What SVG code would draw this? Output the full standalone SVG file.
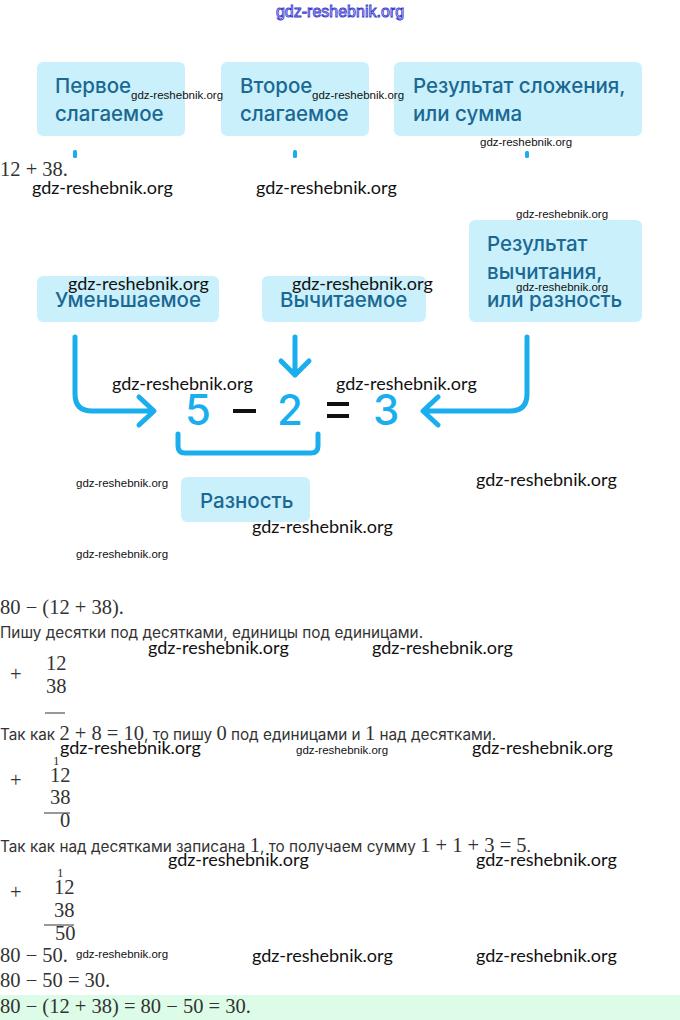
<svg xmlns="http://www.w3.org/2000/svg" width="680" height="1020" viewBox="0 0 680 1020">
<style>
.box{fill:#c9f0fb}
.bt{font-family:Inter,"Noto Sans",sans-serif;font-size:20.5px;font-weight:500;fill:#1b6893}
.wm{font-family:Lato,"Liberation Sans",sans-serif;font-size:18px;fill:#111}
.ws{font-family:"Liberation Sans Narrow","Liberation Sans",sans-serif;font-size:11.5px;fill:#111}
.m{font-family:"Liberation Serif","DejaVu Serif",serif;font-size:20.5px;fill:#333}
.t{font-family:Inter,"Noto Sans",sans-serif;font-size:15.3px;fill:#333}
.ar{fill:none;stroke:#1aaeee;stroke-width:5;stroke-linecap:round;stroke-linejoin:round}
.big{font-family:Inter,"Noto Sans",sans-serif;font-size:42px;font-weight:500}
</style>
<rect width="680" height="1020" fill="#fff"/>
<text x="340" y="17" text-anchor="middle" style="font-family:'Liberation Sans',sans-serif;font-size:16px;fill:#fff;stroke:#3a3ad0;stroke-width:0.9">gdz-reshebnik.org</text>

<g id="n1"><rect class="box" x="37" y="62" width="148" height="74" rx="6"/><text class="bt" x="55" y="93">Первое</text><text class="bt" x="55" y="121">слагаемое</text></g>
<g id="n2"><rect class="box" x="221" y="62" width="148" height="74" rx="6"/><text class="bt" x="240" y="93">Второе</text><text class="bt" x="240" y="121">слагаемое</text></g>
<g id="n3"><rect class="box" x="394" y="62" width="248" height="74" rx="6"/><text class="bt" x="413" y="93">Результат сложения,</text><text class="bt" x="413" y="121">или сумма</text></g>
<g id="n4"><rect class="box" x="37" y="276" width="182" height="46" rx="6"/><text class="bt" x="55" y="307">Уменьшаемое</text></g>
<g id="n5"><rect class="box" x="262" y="276" width="164" height="46" rx="6"/><text class="bt" x="280" y="307">Вычитаемое</text></g>
<g id="n6"><rect class="box" x="469" y="220" width="173" height="102" rx="6"/><text class="bt" x="487" y="251">Результат</text><text class="bt" x="487" y="279">вычитания,</text><text class="bt" x="487" y="307">или разность</text></g>
<g id="n7"><rect class="box" x="181" y="477" width="129" height="45" rx="6"/><text class="bt" x="200" y="508">Разность</text></g>

<g id="connectors">
<rect x="73" y="150" width="4" height="8" rx="1.5" fill="#1aaeee"/>
<rect x="293" y="150" width="4" height="8" rx="1.5" fill="#1aaeee"/>
<rect x="525" y="151" width="4" height="7" rx="1.5" fill="#1aaeee"/>
<path class="ar" d="M75 337 V394 Q75 411 92 411 H153 M139 397 L154 411 L139 425"/>
<path class="ar" d="M295 337 V375 M281 361 L295 375 L309 361"/>
<path class="ar" d="M527 337 V394 Q527 411 510 411 H424 M438 397 L423 411 L438 425"/>
<path class="ar" d="M178 434 V446 Q178 453 185 453 H311 Q318 453 318 446 V434"/>
</g>

<g id="eq">
<text class="big" x="185" y="425" fill="#1aaeee">5</text>
<rect x="233" y="409" width="23" height="4" fill="#111"/>
<text class="big" x="277" y="425" fill="#1aaeee">2</text>
<rect x="327" y="402" width="22" height="4" fill="#111"/>
<rect x="327" y="414" width="22" height="4" fill="#111"/>
<text class="big" x="373" y="425" fill="#1aaeee">3</text>
</g>

<text class="m" x="0" y="176">12 + 38.</text>

<g id="watermarks">
<text class="ws" x="131" y="99">gdz-reshebnik.org</text>
<text class="ws" x="312" y="99">gdz-reshebnik.org</text>
<text class="ws" x="480" y="146">gdz-reshebnik.org</text>
<text class="wm" x="32" y="194">gdz-reshebnik.org</text>
<text class="wm" x="256" y="194">gdz-reshebnik.org</text>
<text class="ws" x="516" y="218">gdz-reshebnik.org</text>
<text class="ws" x="516" y="291">gdz-reshebnik.org</text>
<text class="wm" x="68" y="290">gdz-reshebnik.org</text>
<text class="wm" x="292" y="290">gdz-reshebnik.org</text>
<text class="wm" x="112" y="390">gdz-reshebnik.org</text>
<text class="wm" x="336" y="390">gdz-reshebnik.org</text>
<text class="ws" x="76" y="487">gdz-reshebnik.org</text>
<text class="wm" x="476" y="486">gdz-reshebnik.org</text>
<text class="wm" x="252" y="533">gdz-reshebnik.org</text>
<text class="ws" x="76" y="558">gdz-reshebnik.org</text>
<text class="wm" x="148" y="654">gdz-reshebnik.org</text>
<text class="wm" x="372" y="654">gdz-reshebnik.org</text>
<text class="wm" x="60" y="754">gdz-reshebnik.org</text>
<text class="ws" x="296" y="754">gdz-reshebnik.org</text>
<text class="wm" x="472" y="754">gdz-reshebnik.org</text>
<text class="wm" x="168" y="866">gdz-reshebnik.org</text>
<text class="wm" x="476" y="866">gdz-reshebnik.org</text>
<text class="ws" x="76" y="958">gdz-reshebnik.org</text>
<text class="wm" x="252" y="962">gdz-reshebnik.org</text>
<text class="wm" x="476" y="962">gdz-reshebnik.org</text>
</g>

<g id="solution">
<text class="m" x="0" y="614">80 − (12 + 38).</text>
<text class="t" x="0" y="638">Пишу десятки под десятками, единицы под единицами.</text>
<text class="m" x="10" y="681">+</text>
<text class="m" x="46" y="670">12</text>
<text class="m" x="46" y="693">38</text>
<line x1="45" y1="713" x2="65" y2="713" stroke="#333" stroke-width="1"/>

<text class="t" x="0" y="740">Так как <tspan class="m">2 + 8 = 10</tspan>, то пишу <tspan class="m">0</tspan> под единицами и <tspan class="m">1</tspan> над десятками.</text>
<text class="m" x="53" y="765" style="font-size:13px">1</text>
<text class="m" x="10" y="787">+</text>
<text class="m" x="50" y="782">12</text>
<text class="m" x="50" y="804">38</text>
<line x1="44" y1="813" x2="70" y2="813" stroke="#333" stroke-width="1"/>
<text class="m" x="60" y="827">0</text>

<text class="t" x="0" y="852">Так как над десятками записана <tspan class="m">1</tspan>, то получаем сумму <tspan class="m">1 + 1 + 3 = 5</tspan>.</text>
<text class="m" x="57" y="877" style="font-size:13px">1</text>
<text class="m" x="10" y="899">+</text>
<text class="m" x="54" y="894">12</text>
<text class="m" x="54" y="917">38</text>
<line x1="44" y1="925" x2="74" y2="925" stroke="#333" stroke-width="1"/>
<text class="m" x="55" y="940">50</text>

<text class="m" x="0" y="962">80 − 50.</text>
<text class="m" x="0" y="987">80 − 50 = 30.</text>
<rect x="0" y="995" width="680" height="25" fill="#dcfce8"/>
<text class="m" x="0" y="1013">80 − (12 + 38) = 80 − 50 = 30.</text>
</g>
</svg>
